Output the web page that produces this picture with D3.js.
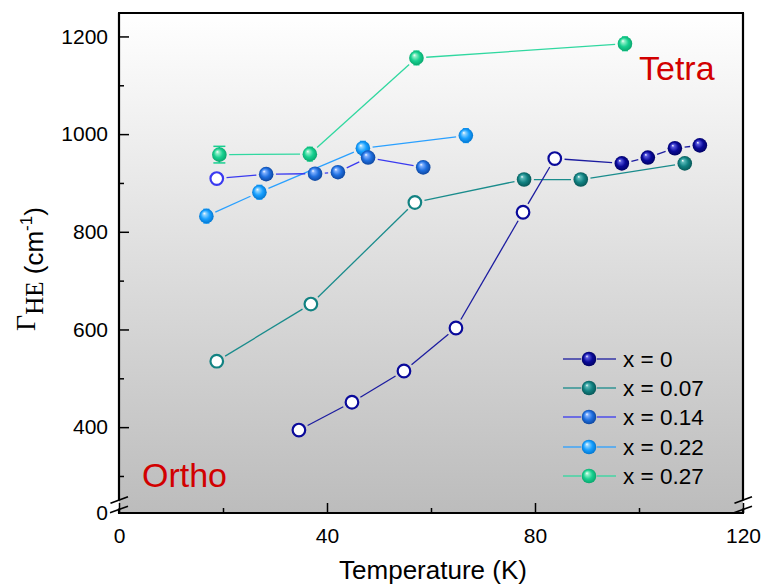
<!DOCTYPE html>
<html><head><meta charset="utf-8">
<script src="https://cdn.jsdelivr.net/npm/d3@7"></script>
<style>
body{margin:0;background:#fff}
svg{display:block}
text{font-family:"Liberation Sans",Arial,sans-serif}
</style>
</head><body>
<svg id="c" width="762" height="586"></svg>
<script>
// ---- data ----
const seriesNames = ["x = 0", "x = 0.07", "x = 0.14", "x = 0.22", "x = 0.27"];
const temp_x0   = [34.6, 44.8, 54.8, 64.8, 77.7, 83.8, 96.7, 101.7, 106.9, 111.7];
const gamma_x0  = [394, 451, 515, 603, 840, 950, 940, 952, 971, 977];
const open_x0   = [true, true, true, true, true, true, false, false, false, false];
const temp_x007  = [18.8, 36.9, 56.9, 77.9, 88.8, 108.8];
const gamma_x007 = [535, 652, 860, 907, 907, 940];
const open_x007  = [true, true, true, false, false, false];
const temp_x014  = [18.8, 28.3, 37.7, 42.1, 47.9, 58.5];
const gamma_x014 = [909, 918, 919, 922, 952, 932];
const open_x014  = [true, false, false, false, false, false];
const temp_x022  = [16.8, 27.0, 46.9, 66.7];
const gamma_x022 = [832, 881, 971, 997];
const err_x022   = [14, 14, 14, 14];
const temp_x027  = [19.3, 36.7, 57.2, 97.3];
const gamma_x027 = [958, 959, 1156, 1185];
const err_x027   = [17, 14, 14, 14];
const xTicks = [0, 40, 80, 120];
const xMinor = [20, 60, 100];
const yTicks = [0, 400, 600, 800, 1000, 1200];
const yMinor = [300, 500, 700, 900, 1100];

const colors = {
  "x = 0":    {fill:"#0a0a9a", line:"#1c1ca0", dark:"#00005a", light:"#5a5ae0"},
  "x = 0.07": {fill:"#128282", line:"#1a8c8c", dark:"#055050", light:"#5ab8b8"},
  "x = 0.14": {fill:"#2070e0", line:"#3a3af0", dark:"#0a3f95", light:"#7fb0ff"},
  "x = 0.22": {fill:"#18a0ff", line:"#2aa0ff", dark:"#0070c8", light:"#90d4ff"},
  "x = 0.27": {fill:"#18d090", line:"#30d8a0", dark:"#08a068", light:"#90f0c8"}
};

const series = [
  {name: seriesNames[0], t: temp_x0,   v: gamma_x0,   open: open_x0},
  {name: seriesNames[1], t: temp_x007, v: gamma_x007, open: open_x007},
  {name: seriesNames[2], t: temp_x014, v: gamma_x014, open: open_x014},
  {name: seriesNames[3], t: temp_x022, v: gamma_x022, err: err_x022},
  {name: seriesNames[4], t: temp_x027, v: gamma_x027, err: err_x027}
];

// ---- layout ----
const L = 119, R = 743, T = 13, B = 513;
const svg = d3.select("#c");
const defs = svg.append("defs");

const bg = defs.append("linearGradient").attr("id","bg").attr("x1",0).attr("y1",0).attr("x2",0).attr("y2",1);
bg.append("stop").attr("offset","0%").attr("stop-color","#ffffff");
bg.append("stop").attr("offset","100%").attr("stop-color","#bcbcbc");

seriesNames.forEach((n,i)=>{
  const c = colors[n];
  const g = defs.append("radialGradient").attr("id","sph"+i)
    .attr("cx","50%").attr("cy","50%").attr("r","55%").attr("fx","35%").attr("fy","30%");
  g.append("stop").attr("offset","0%").attr("stop-color","#ffffff");
  g.append("stop").attr("offset","18%").attr("stop-color",c.light);
  g.append("stop").attr("offset","55%").attr("stop-color",c.fill);
  g.append("stop").attr("offset","100%").attr("stop-color",c.dark);
});

const x = d3.scaleLinear().domain([0,120]).range([L,R]);
const y = d3.scaleLinear().domain([0,250,1248]).range([B,500.4,T]);

svg.append("rect").attr("x",L).attr("y",T).attr("width",R-L).attr("height",B-T).attr("fill","url(#bg)");

// axes ticks
const xAxis = svg.append("g").attr("transform",`translate(0,${B})`)
  .call(d3.axisBottom(x).tickValues(xTicks).tickSize(-10).tickPadding(15).tickFormat(d3.format("d")));
xAxis.select(".domain").remove();
xAxis.selectAll("text").attr("font-size",21).attr("font-family","Liberation Sans, Arial, sans-serif").attr("fill","#000");
xAxis.selectAll("line").attr("stroke","#000").attr("stroke-width",1.5);
const xAxisM = svg.append("g").attr("transform",`translate(0,${B})`)
  .call(d3.axisBottom(x).tickValues(xMinor).tickSize(-5).tickFormat(""));
xAxisM.select(".domain").remove();
xAxisM.selectAll("line").attr("stroke","#000").attr("stroke-width",1.5);

const yAxis = svg.append("g").attr("transform",`translate(${L},0)`)
  .call(d3.axisLeft(y).tickValues(yTicks).tickSize(-10).tickPadding(11).tickFormat(d3.format("d")));
yAxis.select(".domain").remove();
yAxis.selectAll("text").attr("font-size",21).attr("font-family","Liberation Sans, Arial, sans-serif").attr("fill","#000");
yAxis.selectAll("line").attr("stroke","#000").attr("stroke-width",1.5);
yAxis.selectAll(".tick").filter(d=>d===0).select("line").remove();
const yAxisM = svg.append("g").attr("transform",`translate(${L},0)`)
  .call(d3.axisLeft(y).tickValues(yMinor).tickSize(-5).tickFormat(""));
yAxisM.select(".domain").remove();
yAxisM.selectAll("line").attr("stroke","#000").attr("stroke-width",1.5);

// frame with breaks
const frame = svg.append("g").attr("stroke","#000").attr("stroke-width",2.2).attr("fill","none");
frame.append("line").attr("x1",L-1).attr("x2",R+1).attr("y1",T).attr("y2",T);
frame.append("line").attr("x1",L-1).attr("x2",R+1).attr("y1",B).attr("y2",B);
[L,R].forEach(xx=>{
  frame.append("line").attr("x1",xx).attr("x2",xx).attr("y1",T).attr("y2",500.5);
  frame.append("line").attr("x1",xx).attr("x2",xx).attr("y1",508.5).attr("y2",B);
  const br = svg.append("g").attr("stroke","#000").attr("stroke-width",1.6);
  br.append("line").attr("x1",xx-8.5).attr("y1",503.3).attr("x2",xx+9).attr("y2",496.7);
  br.append("line").attr("x1",xx-9).attr("y1",512.7).attr("x2",xx+9).attr("y2",506.2);
});

// data
const rM = 7.3;
const plot = svg.append("g");
series.slice().reverse().forEach(s=>{
  const i = seriesNames.indexOf(s.name);
  const c = colors[s.name];
  const pts = s.t.map((t,k)=>[x(t), y(s.v[k])]);
  const g = plot.append("g");
  for(let k=0;k<pts.length-1;k++){
    const [x1,y1]=pts[k],[x2,y2]=pts[k+1];
    const d=Math.hypot(x2-x1,y2-y1), gap=rM+2.5;
    if(d<=2*gap) continue;
    const ux=(x2-x1)/d, uy=(y2-y1)/d;
    g.append("line").attr("x1",x1+ux*gap).attr("y1",y1+uy*gap).attr("x2",x2-ux*gap).attr("y2",y2-uy*gap)
      .attr("stroke",c.line).attr("stroke-width",1.3);
  }
  if(s.err){
    s.t.forEach((t,k)=>{
      const cx=x(t), yt=y(s.v[k]+s.err[k]), yb=y(s.v[k]-s.err[k]);
      const cw = s.err[k]>15 ? 6 : 3;
      g.append("line").attr("x1",cx).attr("x2",cx).attr("y1",yt).attr("y2",yb).attr("stroke",c.fill).attr("stroke-width",1.5);
      [yt,yb].forEach(yy=>g.append("line").attr("x1",cx-cw).attr("x2",cx+cw).attr("y1",yy).attr("y2",yy).attr("stroke",c.fill).attr("stroke-width",1.5));
    });
  }
  s.t.forEach((t,k)=>{
    const open = s.open && s.open[k];
    const circ = g.append("circle").attr("cx",x(t)).attr("cy",y(s.v[k]));
    if(open) circ.attr("r",rM-1).attr("fill","#fff").attr("stroke",s.name==="x = 0.14"?"#3a3af0":c.fill).attr("stroke-width",2.2);
    else circ.attr("r",rM).attr("fill",`url(#sph${i})`);
  });
});

// legend
const legY = [359, 388, 417, 447, 476];
seriesNames.forEach((n,i)=>{
  const c = colors[n];
  const g = svg.append("g");
  g.append("line").attr("x1",563).attr("x2",581).attr("y1",legY[i]).attr("y2",legY[i]).attr("stroke",c.line).attr("stroke-width",1.3);
  g.append("line").attr("x1",597).attr("x2",616).attr("y1",legY[i]).attr("y2",legY[i]).attr("stroke",c.line).attr("stroke-width",1.3);
  g.append("circle").attr("cx",589).attr("cy",legY[i]).attr("r",rM).attr("fill",`url(#sph${i})`);
  g.append("text").attr("x",623).attr("y",legY[i]).attr("dy","0.35em").attr("font-size",22.5).text(n);
});

// annotations
svg.append("text").attr("x",639).attr("y",80).attr("font-size",34).attr("fill","#d20000").text("Tetra");
svg.append("text").attr("x",142).attr("y",487).attr("font-size",34).attr("fill","#d20000").text("Ortho");

// axis titles
svg.append("text").attr("x",(L+R)/2+2).attr("y",579).attr("text-anchor","middle").attr("font-size",26).text("Temperature (K)");

const yl = svg.append("text").attr("transform","translate(43,269) rotate(-90)").attr("text-anchor","middle").attr("font-size",26);
yl.append("tspan").attr("font-family","Liberation Serif, Times New Roman, serif").attr("font-size",28).attr("dy",-8).text("Γ");
yl.append("tspan").attr("font-family","Liberation Serif, Times New Roman, serif").attr("font-size",25).attr("dy",8).text("HE");
yl.append("tspan").text(" (cm");
yl.append("tspan").attr("font-size",17).attr("dy",-11).text("-1");
yl.append("tspan").attr("dy",11).text(")");
</script>
</body></html>
